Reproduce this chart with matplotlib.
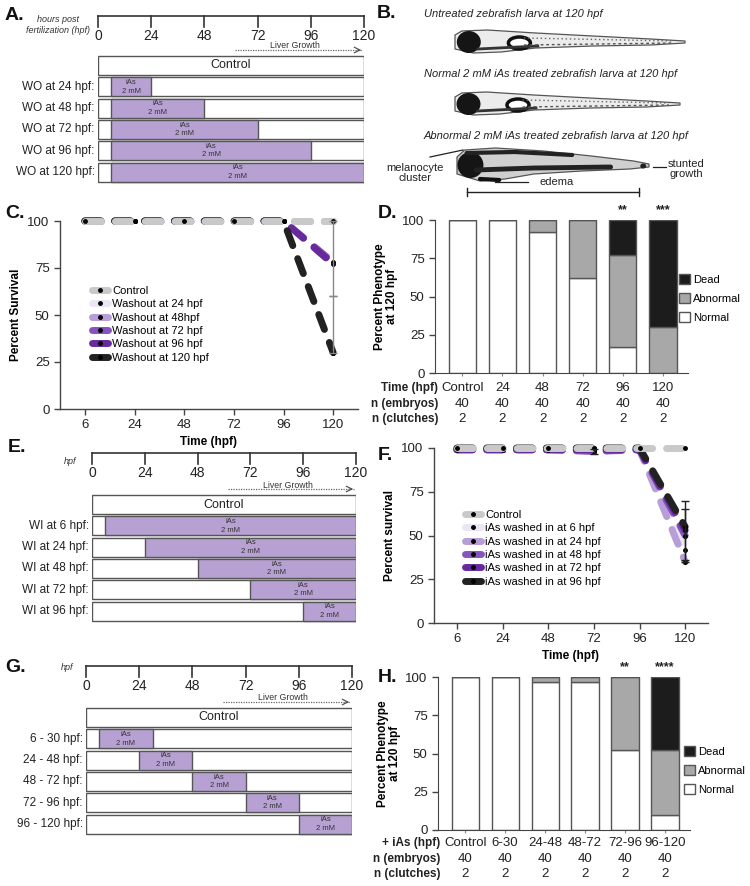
import numpy as np
import matplotlib
matplotlib.use('Agg')
import matplotlib.pyplot as plt
from matplotlib.patches import Rectangle, Ellipse, Polygon, Patch
from matplotlib.lines import Line2D
from matplotlib.transforms import blended_transform_factory

plt.rcParams['font.family'] = ['Liberation Sans', 'DejaVu Sans']

# ---------------- data ----------------
hour_ticks = [0, 24, 48, 72, 96, 120]

# A. washout schedule (iAs from 6 hpf until washout)
wo_labels = ['WO at 24 hpf:', 'WO at 48 hpf:', 'WO at 72 hpf:', 'WO at 96 hpf:', 'WO at 120 hpf:']
wo_start = [6, 6, 6, 6, 6]
wo_end = [24, 48, 72, 96, 120]

# E. wash-in schedule
wi_labels = ['WI at 6 hpf:', 'WI at 24 hpf:', 'WI at 48 hpf:', 'WI at 72 hpf:', 'WI at 96 hpf:']
wi_start = [6, 24, 48, 72, 96]
wi_end = [120, 120, 120, 120, 120]

# G. 24 h exposure windows
win_labels = ['6 - 30 hpf:', '24 - 48 hpf:', '48 - 72 hpf:', '72 - 96 hpf:', '96 - 120 hpf:']
win_start = [6, 24, 48, 72, 96]
win_end = [30, 48, 72, 96, 120]

# C. survival after washout
time_labels = ['6', '24', '48', '72', '96', '120']
c_control = [100, 100, 100, 100, 100, 100]
c_wo24 = [100, 100, 100, 100, 100, 100]
c_wo48 = [100, 100, 100, 100, 100, 100]
c_wo72 = [100, 100, 100, 100, 100, 78]
c_wo96 = [100, 100, 100, 100, 100, 77]
c_wo120 = [100, 100, 100, 100, 100, 30]
c_names = ['Control', 'Washout at 24 hpf', 'Washout at 48hpf', 'Washout at 72 hpf',
           'Washout at 96 hpf', 'Washout at 120 hpf']

# F. survival after wash-in
f_control = [100, 100, 100, 100, 100, 100]
f_wi6 = [99, 99, 99, 99, 99, 42]
f_wi24 = [99, 99, 99, 99, 99, 35]
f_wi48 = [99, 99, 99, 98, 99, 50]
f_wi72 = [99, 99, 99, 99, 99, 53]
f_wi96 = [100, 100, 100, 100, 100, 55]
f_names = ['Control', 'iAs washed in at 6 hpf', 'iAs washed in at 24 hpf', 'iAs washed in at 48 hpf',
           'iAs washed in at 72 hpf', 'iAs washed in at 96 hpf']

# D. phenotype after washout
d_groups = ['Control', '24', '48', '72', '96', '120']
d_normal = [100, 100, 92, 62, 17, 0]
d_abnormal = [0, 0, 8, 38, 60, 30]
d_dead = [0, 0, 0, 0, 23, 70]
d_stars = ['', '', '', '', '**', '***']

# H. phenotype after exposure windows
h_groups = ['Control', '6-30', '24-48', '48-72', '72-96', '96-120']
h_normal = [100, 100, 97, 97, 52, 10]
h_abnormal = [0, 0, 3, 3, 48, 42]
h_dead = [0, 0, 0, 0, 0, 48]
h_stars = ['', '', '', '', '**', '****']

n_embryos = [40, 40, 40, 40, 40, 40]
n_clutches = [2, 2, 2, 2, 2, 2]

# ---------------- styles ----------------
W, H = 750, 886
PURPLE_BOX = '#b7a1d2'
EDGE = '#555555'
series_cols = ['#c9c9c9', '#ebe6f3', '#b79ed6', '#8753bd', '#662a9c', '#222222']

fig = plt.figure(figsize=(W / 100, H / 100), dpi=100)


def px_axes(x0, y0, x1, y1):
    return fig.add_axes([x0 / W, 1 - y1 / H, (x1 - x0) / W, (y1 - y0) / H])


def ftext(x, y, s, **kw):
    fig.text(x / W, 1 - y / H, s, **kw)


def timeline_panel(x0, x1, y_line, ctrl_top, labels, starts, ends):
    pitch, rh = 21.3, 19
    bottom = ctrl_top + pitch * len(labels) + rh + 2
    ax = px_axes(x0, y_line - 4, x1, bottom)
    ax.set_xlim(0, 120)
    ax.set_ylim(bottom, y_line - 4)
    ax.axis('off')
    # time axis
    ax.plot([0, 120], [y_line, y_line], color='#333', lw=1.2, clip_on=False)
    for t in hour_ticks:
        ax.plot([t, t], [y_line, y_line + 11], color='#333', lw=1.2, clip_on=False)
        ax.text(t, y_line + 20, str(t), ha='center', va='center', fontsize=10, color='#222')
    ya = ctrl_top - 6
    ax.plot([62, 119], [ya, ya], color='#666', lw=0.9, ls=(0, (1, 1)))
    ax.annotate('', xy=(120, ya), xytext=(116, ya),
                arrowprops=dict(arrowstyle='->', color='#555', lw=0.9))
    ax.text(89, ya - 4, 'Liver Growth', ha='center', va='center', fontsize=6.3, color='#333')
    # control
    ax.add_patch(Rectangle((0, ctrl_top), 120, rh, fc='white', ec=EDGE, lw=1))
    ax.text(60, ctrl_top + rh / 2, 'Control', ha='center', va='center', fontsize=9, color='#222')
    for i, (lab, s, e) in enumerate(zip(labels, starts, ends)):
        top = ctrl_top + pitch * (i + 1)
        ax.add_patch(Rectangle((0, top), 120, rh, fc='white', ec=EDGE, lw=1))
        ax.add_patch(Rectangle((s, top), e - s, rh, fc=PURPLE_BOX, ec=EDGE, lw=1))
        ax.text((s + e) / 2, top + rh / 2, 'iAs\n2 mM', ha='center', va='center',
                fontsize=5.5, color='#333', linespacing=1.3)
        ax.text(-1.5, top + rh / 2, lab, ha='right', va='center', fontsize=8.5, color='#222')
    return ax


def survival_panel(rect, series, names, ylabel, leg_xy, errs):
    ax = px_axes(*rect)
    x = np.arange(6)
    order = list(range(1, len(series))) + [0]
    for k in order:
        ax.plot(x, series[k], color=series_cols[k], lw=5, dashes=(2.3, 2.0),
                dash_capstyle='round', marker='o', ms=2.5, mfc='k', mec='k',
                clip_on=False, zorder=2 + (k == 0))
    for (xi, yi, lo, hi, col) in errs:
        ax.errorbar(xi, yi, yerr=[[lo], [hi]], fmt='none', ecolor=col, elinewidth=1,
                    capsize=3, capthick=1, zorder=5, clip_on=False)
    ax.set_xlim(-0.5, 5.5)
    ax.set_ylim(0, 100)
    ax.set_xticks(x)
    ax.set_xticklabels(time_labels)
    ax.set_yticks([0, 25, 50, 75, 100])
    for sp in ['top', 'right']:
        ax.spines[sp].set_visible(False)
    for sp in ['left', 'bottom']:
        ax.spines[sp].set_color('#444')
        ax.spines[sp].set_linewidth(1)
    ax.tick_params(labelsize=9.5, length=4, width=1, colors='#444', labelcolor='#222')
    ax.set_ylabel(ylabel, fontsize=8.5, fontweight='bold', labelpad=4)
    ax.set_xlabel('Time (hpf)', fontsize=8.5, fontweight='bold', labelpad=3)
    handles = [Line2D([0], [0], color=c, lw=5, solid_capstyle='round', marker='o', ms=2.5,
                      mfc='k', mec='k') for c in series_cols]
    ax.legend(handles, names, loc='upper left', bbox_to_anchor=(leg_xy[0] / W, 1 - leg_xy[1] / H),
              bbox_transform=fig.transFigure, frameon=False, fontsize=8, handlelength=1.4,
              handletextpad=0.4, labelspacing=0.3, borderpad=0, borderaxespad=0)
    return ax


def phenotype_panel(rect, groups, normal, abnormal, dead, stars, first_row, row_ys, row_x, leg_xy):
    ax = px_axes(*rect)
    x = np.arange(len(groups))
    bw = 0.68
    ax.bar(x, normal, width=bw, color='white', edgecolor=EDGE, lw=1)
    ax.bar(x, abnormal, bottom=normal, width=bw, color='#a8a8a8', edgecolor=EDGE, lw=1)
    ax.bar(x, dead, bottom=np.add(normal, abnormal), width=bw, color='#1c1c1c', edgecolor=EDGE, lw=1)
    for xi, s in zip(x, stars):
        if s:
            ax.text(xi, 106.5, s, ha='center', va='center', fontsize=9, fontweight='bold',
                    color='#222', clip_on=False)
    ax.set_xlim(-0.68, 5.625)
    ax.set_ylim(0, 100)
    ax.set_xticks(x)
    ax.set_xticklabels([])
    ax.set_yticks([0, 25, 50, 75, 100])
    for sp in ['top', 'right']:
        ax.spines[sp].set_visible(False)
    for sp in ['left', 'bottom']:
        ax.spines[sp].set_color('#444')
    ax.tick_params(axis='y', labelsize=9.5, length=4, width=1, colors='#444', labelcolor='#222')
    ax.tick_params(axis='x', length=2, width=0.8, colors='#888')
    ax.set_ylabel('Percent Phenotype\nat 120 hpf', fontsize=8.5, fontweight='bold', labelpad=3,
                  linespacing=1.0)
    tr = blended_transform_factory(ax.transData, fig.transFigure)
    rows = [(first_row, groups), ('n (embryos)', n_embryos), ('n (clutches)', n_clutches)]
    for (name, vals), yy in zip(rows, row_ys):
        ftext(row_x, yy, name, ha='right', va='center', fontsize=8.5, fontweight='bold', color='#222')
        for xi, v in zip(x, vals):
            ax.text(xi, 1 - yy / H, str(v), transform=tr, ha='center', va='center',
                    fontsize=9.5, color='#222')
    handles = [Patch(fc='#1c1c1c', ec=EDGE), Patch(fc='#a8a8a8', ec=EDGE), Patch(fc='white', ec=EDGE)]
    ax.legend(handles, ['Dead', 'Abnormal', 'Normal'], loc='upper left',
              bbox_to_anchor=(leg_xy[0] / W, 1 - leg_xy[1] / H), bbox_transform=fig.transFigure,
              frameon=False, fontsize=8, handlelength=1.0, handleheight=1.0, handletextpad=0.3,
              labelspacing=0.75, borderpad=0, borderaxespad=0)
    return ax


def draw_fish(ax, x0, yc, L, abnormal=False):
    if not abnormal:
        top = [(0, -7), (0.03, -11), (0.14, -12), (0.35, -9), (0.6, -6), (0.85, -3), (1.0, -1)]
        bot = [(1.0, 1), (0.85, 3), (0.6, 4), (0.35, 6), (0.2, 10), (0.08, 11), (0, 7)]
        fc = '#ececec'
    else:
        top = [(0, -8), (0.04, -15), (0.2, -17), (0.45, -14), (0.7, -9), (0.92, -4), (1.0, -1)]
        bot = [(1.0, 2), (0.9, 4), (0.65, 6), (0.4, 9), (0.25, 14), (0.12, 16), (0, 9)]
        fc = '#d0d0d0'
    pts = [(x0 + a * L, yc + b) for a, b in top + bot]
    ax.add_patch(Polygon(pts, closed=True, fc=fc, ec='#555', lw=0.9))
    if abnormal:
        ax.plot([x0 + 0.05 * L, x0 + 0.3 * L, x0 + 0.6 * L], [yc - 12, yc - 13, yc - 10],
                color='#222', lw=3, solid_capstyle='round')
        ax.plot([x0 + 0.1 * L, x0 + 0.4 * L, x0 + 0.8 * L], [yc + 5, yc + 3, yc + 2],
                color='#222', lw=3.5, solid_capstyle='round')
        ax.plot([x0 + 0.12 * L, x0 + 0.22 * L], [yc + 14, yc + 15], color='#111', lw=3,
                solid_capstyle='round')
        ax.add_patch(Ellipse((x0 + 0.97 * L, yc + 1), 6, 5, fc='#222', ec='none'))
        ax.add_patch(Ellipse((x0 + 0.07 * L, yc), 26, 26, fc='#151515', ec='none'))
    else:
        ax.plot([x0 + 0.1 * L, x0 + 0.36 * L], [yc + 7, yc + 4], color='#333', lw=2)
        ax.plot([x0 + 0.3 * L, x0 + 0.95 * L], [yc - 4, yc - 1], color='#666', lw=1, ls=(0, (1, 2)))
        ax.plot([x0 + 0.3 * L, x0 + 0.95 * L], [yc + 3, yc + 1], color='#555', lw=1, ls=(0, (2, 2)))
        ax.add_patch(Ellipse((x0 + 0.06 * L, yc), 24, 22, fc='#151515', ec='none'))
        ax.add_patch(Ellipse((x0 + 0.28 * L, yc + 1), 22, 12, fc='white', ec='#111', lw=2.5))


# ---------------- A ----------------
timeline_panel(98, 364, 16, 56, wo_labels, wo_start, wo_end)
ftext(58, 25, 'hours post\nfertilization (hpf)', ha='center', va='center', fontsize=6.5,
      style='italic', color='#333', linespacing=1.3)

# ---------------- B ----------------
axb = px_axes(375, 0, 750, 210)
axb.set_xlim(375, 750)
axb.set_ylim(210, 0)
axb.axis('off')
axb.text(424, 14, 'Untreated zebrafish larva at 120 hpf', fontsize=8, style='italic', va='center',
         color='#222')
axb.text(424, 74, 'Normal 2 mM iAs treated zebrafish larva at 120 hpf', fontsize=8, style='italic',
         va='center', color='#222')
axb.text(424, 136, 'Abnormal 2 mM iAs treated zebrafish larva at 120 hpf', fontsize=8,
         style='italic', va='center', color='#222')
draw_fish(axb, 455, 42, 230)
draw_fish(axb, 455, 104, 225)
draw_fish(axb, 457, 165, 192, abnormal=True)
axb.plot([430, 463], [157, 150], color='#222', lw=0.9)
axb.text(415, 173, 'melanocyte\ncluster', ha='center', va='center', fontsize=8, color='#222',
         linespacing=1.1)
axb.plot([495, 528], [182, 182], color='#222', lw=0.9)
axb.text(557, 182, 'edema', ha='center', va='center', fontsize=8, color='#222')
axb.plot([653, 666], [167, 167], color='#222', lw=0.9)
axb.text(686, 169, 'stunted\ngrowth', ha='center', va='center', fontsize=8, color='#222',
         linespacing=1.1)
axb.plot([467, 639], [192, 192], color='#222', lw=1)
axb.plot([467, 467], [188, 196], color='#222', lw=1)
axb.plot([639, 639], [188, 196], color='#222', lw=1)

# ---------------- C ----------------
survival_panel((60, 221, 358, 409), [c_control, c_wo24, c_wo48, c_wo72, c_wo96, c_wo120],
               c_names, 'Percent Survival', (92, 286),
               [(5, 77, 17, 23, '#888888'), (5, 30, 0, 30, '#888888')])

# ---------------- D ----------------
phenotype_panel((435, 220, 688, 373), d_groups, d_normal, d_abnormal, d_dead, d_stars,
                'Time (hpf)', [388, 404, 419], 438, (679, 274))

# ---------------- E ----------------
timeline_panel(92, 356, 453, 495, wi_labels, wi_start, wi_end)
ftext(70, 462, 'hpf', ha='center', va='center', fontsize=6.5, style='italic', color='#333')

# ---------------- F ----------------
survival_panel((434, 448, 708, 623), [f_control, f_wi6, f_wi24, f_wi48, f_wi72, f_wi96],
               f_names, 'Percent survival', (465, 510),
               [(5, 53, 17, 17, '#222222'), (5, 50, 15, 15, '#222222'), (3, 98, 1.5, 1.5, '#222222')])

# ---------------- G ----------------
timeline_panel(86, 352, 666, 708, win_labels, win_start, win_end)
ftext(67, 667, 'hpf', ha='center', va='center', fontsize=6.5, style='italic', color='#333')

# ---------------- H ----------------
phenotype_panel((438, 677, 690, 830), h_groups, h_normal, h_abnormal, h_dead, h_stars,
                '+ iAs (hpf)', [843, 859, 874], 440, (684, 746))

# panel letters
for lab, x, y in [('A.', 5, 15), ('B.', 377, 13), ('C.', 5, 213), ('D.', 378, 213),
                  ('E.', 8, 447), ('F.', 378, 455), ('G.', 5, 667), ('H.', 378, 677)]:
    ftext(x, y, lab, ha='left', va='center', fontsize=14, fontweight='bold', color='#111')

fig.savefig('out.png', dpi=100)
